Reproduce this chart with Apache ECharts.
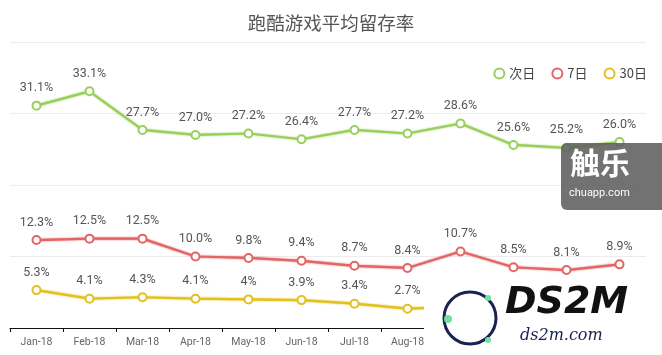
<!DOCTYPE html>
<html><head><meta charset="utf-8">
<script src="https://cdn.jsdelivr.net/npm/echarts@6/dist/echarts.min.js"></script>
<style>html,body{margin:0;padding:0;background:#fff}#c{width:662px;height:355px}</style>
</head><body><div id="c"></div>
<script>
const months = ['Jan-18','Feb-18','Mar-18','Apr-18','May-18','Jun-18','Jul-18','Aug-18','Sep-18','Oct-18','Nov-18','Dec-18'];
const day1 = ['31.1','33.1','27.7','27.0','27.2','26.4','27.7','27.2','28.6','25.6','25.2','26.0'];
const day7 = ['12.3','12.5','12.5','10.0','9.8','9.4','8.7','8.4','10.7','8.5','8.1','8.9'];
const day30 = ['5.3','4.1','4.3','4.1','4','3.9','3.4','2.7','3.0','2.6','2.5','2.8'];
const seriesNames = ['次日','7日','30日'];
const colors = ['#98cf5c','#e26565','#e3c01c'];

const chart = echarts.init(document.getElementById('c'));
function mk(name, data, color){
  return {
    name, type:'line', data: data.map(v => ({value: Number(v), txt: v})),
    symbol:'emptyCircle', symbolSize:8,
    lineStyle:{width:2.2,color, shadowColor:color, shadowBlur:2},
    itemStyle:{color, borderWidth:2},
    label:{show:true, position:'top', distance:6, color:'#555', fontSize:12.5,
      fontFamily:'Roboto, "Noto Sans", sans-serif',
      formatter: p => p.data.txt + '%'},
    z:3
  };
}
chart.setOption({
  animation:false,
  color: colors,
  title:{text:'跑酷游戏平均留存率', left:'center', top:9,
    textStyle:{fontSize:18.5, fontWeight:'normal', color:'#555', fontFamily:'"Noto Sans CJK SC", sans-serif'}},
  legend:{data:seriesNames, right:10, top:62, icon:'emptyCircle', itemWidth:10, itemHeight:10, itemGap:16,
    textStyle:{fontSize:13, color:'#444', fontFamily:'"Noto Sans CJK SC", sans-serif'}},
  grid:{left:10, right:16, top:42, bottom:27, containLabel:false},
  xAxis:{type:'category', data:months, boundaryGap:true,
    axisLine:{lineStyle:{color:'#111', width:1.2}},
    axisTick:{show:true, length:4, lineStyle:{color:'#111'}},
    axisLabel:{color:'#666', fontSize:10.5, margin:9, fontFamily:'Roboto, sans-serif', interval:0},
    splitLine:{show:false}},
  yAxis:{type:'value', min:0, max:40, interval:10,
    axisLabel:{show:false}, axisLine:{show:false}, axisTick:{show:false},
    splitLine:{lineStyle:{color:'#ececec'}}},
  series:[mk(seriesNames[0], day1, colors[0]), mk(seriesNames[1], day7, colors[1]), mk(seriesNames[2], day30, colors[2])],
  graphic:[
    {type:'rect', shape:{x:561, y:143, width:110, height:67, r:6}, style:{fill:'rgba(95,95,95,0.88)'}, z:100},
    {type:'text', style:{x:570, y:148, text:'触乐', fill:'#fff', fontSize:30, fontWeight:'bold', fontFamily:'"Noto Sans CJK SC", sans-serif'}, z:101},
    {type:'text', style:{x:569, y:188, text:'chuapp.com', fill:'#fff', fontSize:11, fontFamily:'Roboto, sans-serif'}, z:101},
    {type:'rect', shape:{x:424, y:280, width:238, height:75}, style:{fill:'#fff'}, z:100},
    {type:'circle', shape:{cx:470, cy:318, r:26}, style:{fill:'none', stroke:'#1b2150', lineWidth:3}, z:101},
    {type:'circle', shape:{cx:448, cy:319, r:4}, style:{fill:'#6fe39a'}, z:102},
    {type:'circle', shape:{cx:488, cy:298, r:3}, style:{fill:'#6fe39a'}, z:102},
    {type:'circle', shape:{cx:488, cy:340, r:3}, style:{fill:'#6fe39a'}, z:102},
    {type:'text', style:{x:505, y:284, text:'DS2M', fill:'#111', fontSize:38, fontWeight:'bold', fontStyle:'italic', fontFamily:'"DejaVu Sans", sans-serif'}, z:101},
    {type:'text', style:{x:520, y:328, text:'ds2m.com', fill:'#1b2150', fontSize:16, fontStyle:'italic', fontFamily:'"DejaVu Serif", serif'}, z:101}
  ]
});
</script></body></html>
